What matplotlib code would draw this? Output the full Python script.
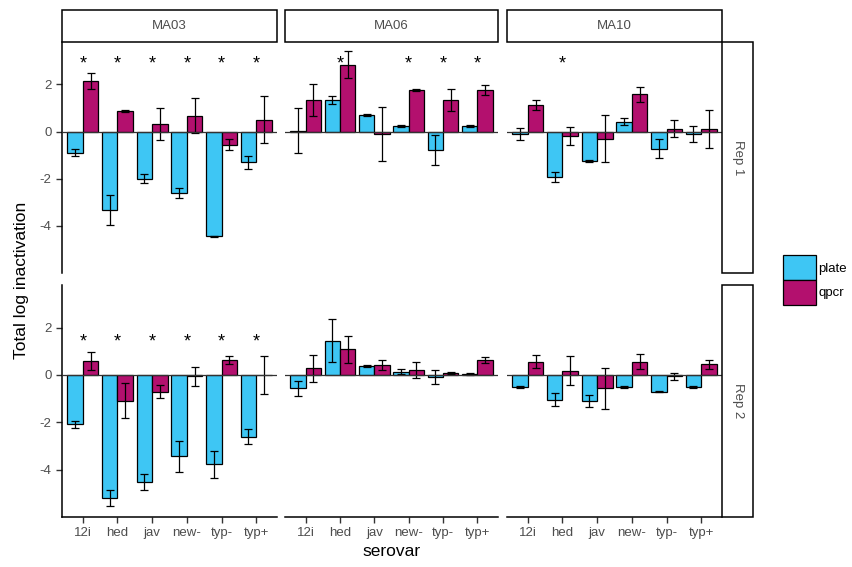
import numpy as np
import matplotlib
matplotlib.use("Agg")
import matplotlib.pyplot as plt
from matplotlib.patches import Rectangle, Patch

plt.rcParams['font.family'] = ['Liberation Sans', 'DejaVu Sans']

serovars = ['12i', 'hed', 'jav', 'new-', 'typ-', 'typ+']
strains = ['MA03', 'MA06', 'MA10']
reps = ['Rep 1', 'Rep 2']

# rep 1
plate_r1 = {'MA03': [-0.9, -3.32, -2.0, -2.6, -4.45, -1.3],
            'MA06': [0.03, 1.34, 0.7, 0.25, -0.77, 0.25],
            'MA10': [-0.1, -1.92, -1.25, 0.42, -0.73, -0.1]}
plate_r1_err = {'MA03': [0.15, 0.63, 0.2, 0.2, 0.03, 0.28],
                'MA06': [0.95, 0.17, 0.05, 0.04, 0.63, 0.04],
                'MA10': [0.25, 0.2, 0.05, 0.14, 0.4, 0.35]}
qpcr_r1 = {'MA03': [2.14, 0.88, 0.32, 0.67, -0.55, 0.5],
           'MA06': [1.34, 2.84, -0.1, 1.76, 1.34, 1.76],
           'MA10': [1.12, -0.17, -0.31, 1.58, 0.12, 0.1]}
qpcr_r1_err = {'MA03': [0.35, 0.05, 0.67, 0.74, 0.25, 1.0],
               'MA06': [0.66, 0.56, 1.16, 0.03, 0.48, 0.2],
               'MA10': [0.2, 0.38, 1.0, 0.32, 0.35, 0.8]}

# rep 2
plate_r2 = {'MA03': [-2.08, -5.2, -4.53, -3.44, -3.77, -2.6],
            'MA06': [-0.56, 1.45, 0.38, 0.14, -0.1, 0.05],
            'MA10': [-0.52, -1.05, -1.1, -0.52, -0.7, -0.52]}
plate_r2_err = {'MA03': [0.15, 0.33, 0.33, 0.65, 0.57, 0.3],
                'MA06': [0.32, 0.9, 0.05, 0.1, 0.3, 0.04],
                'MA10': [0.04, 0.28, 0.25, 0.04, 0.04, 0.04]}
qpcr_r2 = {'MA03': [0.59, -1.08, -0.7, -0.05, 0.63, 0.0],
           'MA06': [0.28, 1.08, 0.42, 0.2, 0.07, 0.63],
           'MA10': [0.56, 0.18, -0.56, 0.56, -0.05, 0.45]}
qpcr_r2_err = {'MA03': [0.38, 0.73, 0.28, 0.4, 0.17, 0.8],
               'MA06': [0.56, 0.57, 0.2, 0.33, 0.04, 0.14],
               'MA10': [0.28, 0.6, 0.87, 0.32, 0.15, 0.2]}

# significant differences
stars = {('MA03', 'Rep 1'): serovars,
         ('MA06', 'Rep 1'): ['hed', 'new-', 'typ-', 'typ+'],
         ('MA10', 'Rep 1'): ['hed'],
         ('MA03', 'Rep 2'): serovars,
         ('MA06', 'Rep 2'): [],
         ('MA10', 'Rep 2'): []}
star_y = {'Rep 1': 2.86, 'Rep 2': 1.4}

data = {'Rep 1': (plate_r1, plate_r1_err, qpcr_r1, qpcr_r1_err),
        'Rep 2': (plate_r2, plate_r2_err, qpcr_r2, qpcr_r2_err)}

c_plate = '#3EC6F4'
c_qpcr = '#B3106E'
grey = '#4D4D4D'

W, H = 852, 567
fig = plt.figure(figsize=(W / 100, H / 100), dpi=100)


def fx(px):
    return px / W


def fy(py):
    return 1 - py / H


col_x = [(62, 277), (285, 498), (507, 722)]
row_y = [(42, 273), (285, 517)]

x = np.arange(1, len(serovars) + 1)
w = 0.45

for r, rep in enumerate(reps):
    plate, plate_err, qpcr, qpcr_err = data[rep]
    for c, s in enumerate(strains):
        x0, x1 = col_x[c]
        y0, y1 = row_y[r]
        ax = fig.add_axes([fx(x0), fy(y1), fx(x1 - x0), (y1 - y0) / H])
        ax.bar(x - w / 2, plate[s], w, color=c_plate, edgecolor='black', linewidth=0.9, zorder=2)
        ax.bar(x + w / 2, qpcr[s], w, color=c_qpcr, edgecolor='black', linewidth=0.9, zorder=2)
        ax.errorbar(x - w / 2, plate[s], yerr=plate_err[s], fmt='none', ecolor='black',
                    elinewidth=0.9, capsize=3, capthick=0.9, zorder=3)
        ax.errorbar(x + w / 2, qpcr[s], yerr=qpcr_err[s], fmt='none', ecolor='black',
                    elinewidth=0.9, capsize=3, capthick=0.9, zorder=3)
        ax.axhline(0, color='#333333', linewidth=0.9, zorder=4)
        for sv in stars[(s, rep)]:
            ax.text(serovars.index(sv) + 1, star_y[rep], '*', ha='center', va='center',
                    fontsize=13, color='black')
        ax.set_xlim(0.4, 6.6)
        ax.set_ylim(-6.0, 3.8)
        ax.set_yticks([-4, -2, 0, 2])
        ax.set_xticks(x)
        for sp in ['top', 'right']:
            ax.spines[sp].set_visible(False)
        ax.spines['left'].set_visible(c == 0)
        ax.spines['bottom'].set_visible(r == 1)
        ax.spines['left'].set_linewidth(1.1)
        ax.spines['bottom'].set_linewidth(1.1)
        ax.tick_params(axis='both', direction='out', length=4, width=1, colors='#333333',
                       labelcolor=grey, labelsize=9.5)
        if c == 0:
            ax.set_yticklabels(['-4', '-2', '0', '2'])
        else:
            ax.tick_params(axis='y', left=False, labelleft=False)
        if r == 1:
            ax.set_xticklabels(serovars)
        else:
            ax.tick_params(axis='x', bottom=False, labelbottom=False)

        # top strips
        if r == 0:
            fig.patches.append(Rectangle((fx(x0), fy(42)), fx(x1 - x0), 32 / H,
                                         transform=fig.transFigure, facecolor='white',
                                         edgecolor='black', linewidth=1.1))
            fig.text(fx((x0 + x1) / 2), fy(26), s, ha='center', va='center',
                     fontsize=9.5, color=grey)
    # right strips
    y0, y1 = row_y[r]
    fig.patches.append(Rectangle((fx(722), fy(y1)), fx(31), (y1 - y0) / H,
                                 transform=fig.transFigure, facecolor='white',
                                 edgecolor='black', linewidth=1.1))
    fig.text(fx(738), fy((y0 + y1) / 2), rep, ha='center', va='center', rotation=-90,
             fontsize=9.5, color=grey)

fig.text(fx(22), fy(280), 'Total log inactivation', ha='center', va='center',
         rotation=90, fontsize=12.5)
fig.text(fx(392), fy(551), 'serovar', ha='center', va='center', fontsize=12.5)

handles = [Patch(facecolor=c_plate, edgecolor='black', linewidth=0.9),
           Patch(facecolor=c_qpcr, edgecolor='black', linewidth=0.9)]
fig.legend(handles, ['plate', 'qpcr'], loc='center left', bbox_to_anchor=(fx(778), fy(280)),
           frameon=False, fontsize=9.5, handlelength=2.5, handleheight=2.5,
           labelspacing=0.0, handletextpad=0.15, borderaxespad=0)

fig.savefig('out.png', dpi=100)
